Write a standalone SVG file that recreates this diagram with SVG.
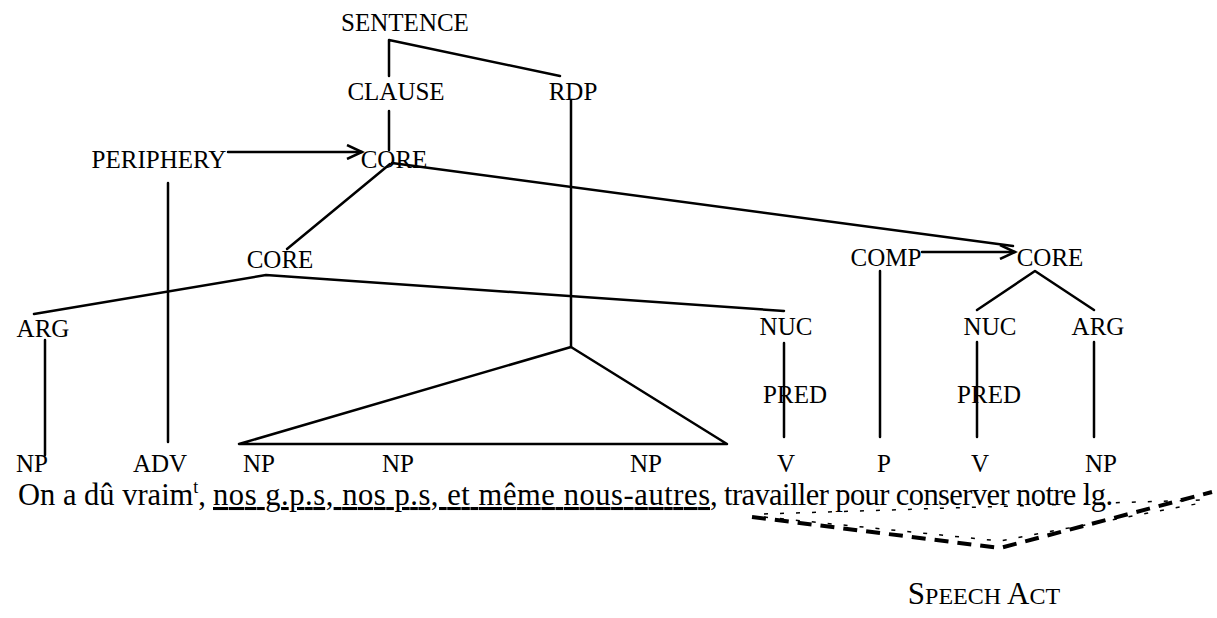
<svg xmlns="http://www.w3.org/2000/svg" width="1217" height="618" viewBox="0 0 1217 618">
<style>
.lbl{font-family:"Liberation Serif","Times New Roman","DejaVu Serif",serif;font-size:25px;fill:#000;text-anchor:middle}
.sent{font-family:"Liberation Serif","Times New Roman","DejaVu Serif",serif;font-size:30.5px;fill:#000}
.ln{stroke:#000;stroke-width:2.5;fill:none;stroke-linecap:round;stroke-linejoin:round}
.dash{stroke:#000;stroke-width:4;fill:none;stroke-dasharray:14 9}
.dot{stroke:#000;stroke-width:1.5;fill:none;stroke-dasharray:4 12}
.sc{font-family:"Liberation Serif","Times New Roman","DejaVu Serif",serif;font-size:31px;fill:#000;text-anchor:middle}
</style>
<defs>
<marker id="arr" markerUnits="userSpaceOnUse" markerWidth="20" markerHeight="16" refX="17" refY="8" orient="auto">
<path d="M2,1 L17,8 L2,15" stroke="#000" stroke-width="2.5" fill="none"/>
</marker>
</defs>
<g id="connectors">
<polyline class="ln" points="389,76 389,40 560,76"/>
<line class="ln" x1="389" y1="111" x2="389" y2="150"/>
<line class="ln" x1="571" y1="100" x2="571" y2="347"/>
<polygon class="ln" points="571,347 239,444 727,444"/>
<line class="ln" x1="228" y1="152" x2="362" y2="152" marker-end="url(#arr)"/>
<line class="ln" x1="168" y1="183" x2="168" y2="442"/>
<line class="ln" x1="390" y1="164" x2="287" y2="249"/>
<line class="ln" x1="392" y1="163" x2="1013" y2="246"/>
<polyline class="ln" points="34,314 266,275 784,311"/>
<line class="ln" x1="45" y1="340" x2="45" y2="455"/>
<line class="ln" x1="784" y1="343" x2="784" y2="437"/>
<line class="ln" x1="922" y1="252" x2="1015" y2="252" marker-end="url(#arr)"/>
<line class="ln" x1="880" y1="271" x2="880" y2="437"/>
<polyline class="ln" points="977,310 1035,271 1094,310"/>
<line class="ln" x1="977" y1="342" x2="977" y2="437"/>
<line class="ln" x1="1094" y1="342" x2="1094" y2="437"/>
</g>
<g id="speech-act-lines">
<polyline class="dash" points="752,517 1000,548 1212,492"/>
<polyline class="dot" points="764,517 1000,541 1196,504"/>
<line class="dot" x1="764" y1="514" x2="1200" y2="500"/>
</g>
<g id="n-sentence"><text class="lbl" x="405" y="31">SENTENCE</text></g>
<g id="n-clause"><text class="lbl" x="396" y="100">CLAUSE</text></g>
<g id="n-rdp"><text class="lbl" x="573" y="100">RDP</text></g>
<g id="n-periphery"><text class="lbl" x="159" y="168">PERIPHERY</text></g>
<g id="n-core1"><text class="lbl" x="394" y="168">CORE</text></g>
<g id="n-core2"><text class="lbl" x="280" y="268">CORE</text></g>
<g id="n-arg1"><text class="lbl" x="43" y="337">ARG</text></g>
<g id="n-nuc1"><text class="lbl" x="786" y="335">NUC</text></g>
<g id="n-pred1"><text class="lbl" x="795" y="403">PRED</text></g>
<g id="n-comp"><text class="lbl" x="886" y="266">COMP</text></g>
<g id="n-core3"><text class="lbl" x="1050" y="266">CORE</text></g>
<g id="n-nuc2"><text class="lbl" x="990" y="335">NUC</text></g>
<g id="n-arg2"><text class="lbl" x="1098" y="335">ARG</text></g>
<g id="n-pred2"><text class="lbl" x="989" y="403">PRED</text></g>
<g id="n-np1"><text class="lbl" x="32" y="472">NP</text></g>
<g id="n-adv"><text class="lbl" x="160" y="472">ADV</text></g>
<g id="n-np2"><text class="lbl" x="259" y="472">NP</text></g>
<g id="n-np3"><text class="lbl" x="398" y="472">NP</text></g>
<g id="n-np4"><text class="lbl" x="646" y="472">NP</text></g>
<g id="n-v1"><text class="lbl" x="786" y="472">V</text></g>
<g id="n-p"><text class="lbl" x="884" y="472">P</text></g>
<g id="n-v2"><text class="lbl" x="980" y="472">V</text></g>
<g id="n-np5"><text class="lbl" x="1101" y="472">NP</text></g>
<g id="sentence">
<text class="sent" x="18" y="505">On a dû vraim<tspan font-size="18" dy="-12">t</tspan><tspan dy="12">,</tspan></text>
<text class="sent" x="213" y="505" text-decoration="underline" textLength="497" lengthAdjust="spacing">nos g.p.s, nos p.s, et même nous-autres</text>
<text class="sent" x="710" y="505" textLength="403" lengthAdjust="spacing">, travailler pour conserver notre lg.</text>
</g>
<g id="n-speech-act"><text class="sc" x="984" y="604">S<tspan style="font-size:24px">PEECH</tspan> A<tspan style="font-size:24px">CT</tspan></text></g>
</svg>
